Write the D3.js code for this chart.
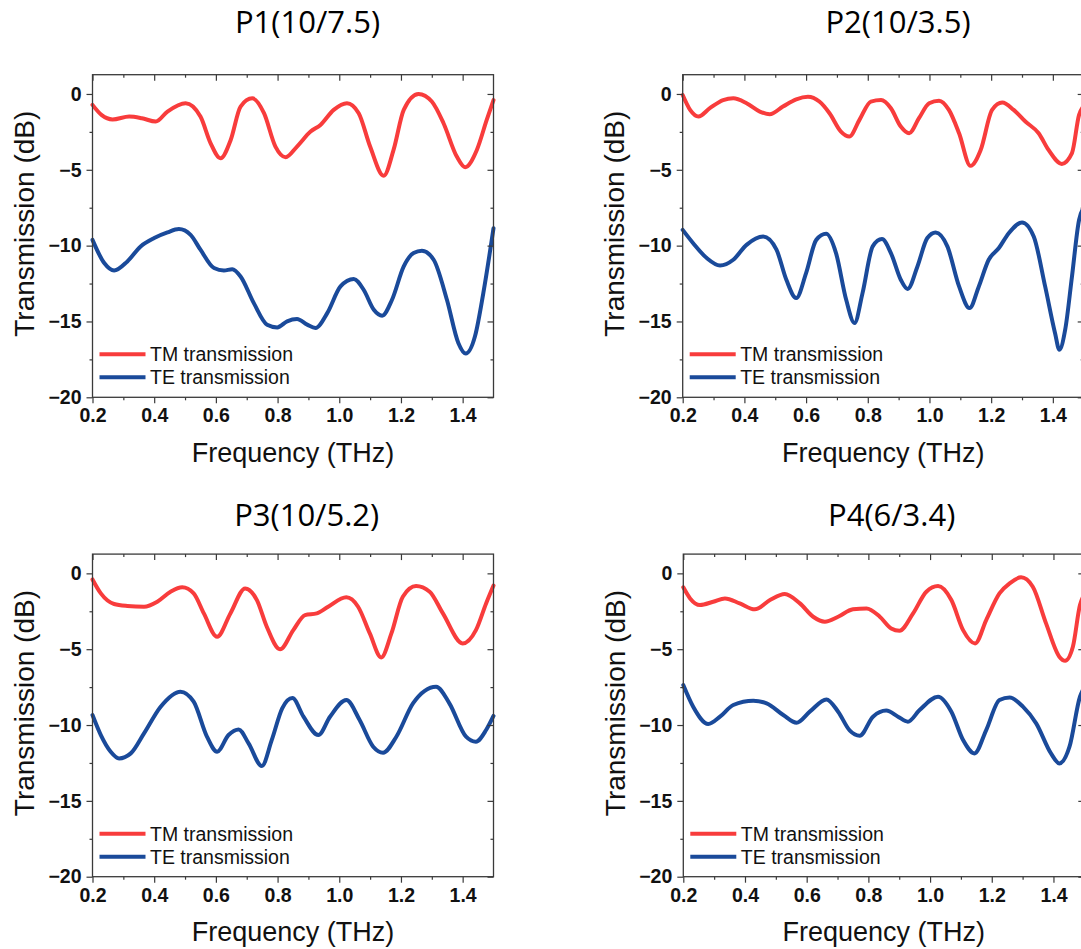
<!DOCTYPE html>
<html>
<head>
<meta charset="utf-8">
<script src="https://cdn.jsdelivr.net/npm/d3@7/dist/d3.min.js"></script>
<style>
  html, body { margin: 0; padding: 0; background: #fff; overflow: hidden; }
  svg { display: block; }
</style>
</head>
<body>
<svg id="chart" width="1081" height="949"></svg>
<script>
// ---------- DATA: [frequency (THz), transmission (dB)] ----------
const panelTitles = ["P1(10/7.5)", "P2(10/3.5)", "P3(10/5.2)", "P4(6/3.4)"];
const seriesNames = ["TM transmission", "TE transmission"];
const xTicks = [0.2, 0.4, 0.6, 0.8, 1.0, 1.2, 1.4];
const yTicks = [0, -5, -10, -15, -20];

const p1TM = [[0.2,-0.72],[0.23,-1.4],[0.265,-1.68],[0.319,-1.49],[0.36,-1.6],[0.405,-1.82],[0.443,-1.16],[0.502,-0.61],[0.55,-1.49],[0.583,-3.25],[0.615,-4.24],[0.648,-3.03],[0.68,-0.83],[0.718,-0.29],[0.756,-1.27],[0.793,-3.47],[0.826,-4.17],[0.863,-3.47],[0.907,-2.48],[0.939,-2.04],[0.982,-1.05],[1.025,-0.61],[1.063,-1.27],[1.1,-3.47],[1.144,-5.4],[1.176,-3.69],[1.209,-1.05],[1.257,0.0],[1.3,-0.5],[1.338,-1.93],[1.381,-4.13],[1.408,-4.83],[1.446,-3.69],[1.478,-1.71],[1.5,-0.4]];
const p1TE = [[0.2,-9.62],[0.238,-11.15],[0.27,-11.64],[0.313,-11.04],[0.356,-10.05],[0.4,-9.5],[0.443,-9.13],[0.48,-8.91],[0.518,-9.29],[0.55,-10.27],[0.594,-11.48],[0.626,-11.64],[0.653,-11.55],[0.68,-12.03],[0.723,-13.79],[0.766,-15.21],[0.799,-15.39],[0.831,-14.99],[0.863,-14.84],[0.896,-15.21],[0.923,-15.43],[0.961,-14.45],[1.004,-12.69],[1.047,-12.2],[1.079,-12.91],[1.112,-14.23],[1.139,-14.62],[1.171,-13.57],[1.209,-11.37],[1.241,-10.49],[1.268,-10.34],[1.306,-10.93],[1.349,-13.57],[1.386,-16.42],[1.41,-17.12],[1.44,-15.98],[1.467,-13.13],[1.5,-8.85]];

const p2TM = [[0.2,-0.07],[0.224,-1.05],[0.251,-1.49],[0.288,-0.94],[0.331,-0.4],[0.364,-0.29],[0.407,-0.61],[0.45,-1.16],[0.482,-1.34],[0.525,-0.83],[0.568,-0.35],[0.606,-0.18],[0.643,-0.5],[0.676,-1.27],[0.713,-2.48],[0.74,-2.81],[0.773,-1.71],[0.81,-0.5],[0.843,-0.4],[0.875,-0.94],[0.907,-2.15],[0.934,-2.59],[0.966,-1.6],[0.999,-0.61],[1.031,-0.44],[1.063,-1.05],[1.096,-2.59],[1.133,-4.74],[1.166,-3.69],[1.203,-1.05],[1.236,-0.57],[1.273,-1.05],[1.311,-1.82],[1.354,-2.59],[1.386,-3.69],[1.429,-4.61],[1.462,-3.9],[1.485,-1.38],[1.5,-0.8]];
const p2TE = [[0.2,-8.96],[0.234,-9.84],[0.278,-10.82],[0.321,-11.31],[0.364,-10.93],[0.407,-9.95],[0.461,-9.4],[0.504,-10.27],[0.536,-12.25],[0.568,-13.46],[0.6,-11.81],[0.633,-9.62],[0.665,-9.22],[0.697,-10.49],[0.73,-13.57],[0.757,-15.1],[0.783,-13.13],[0.816,-10.05],[0.846,-9.57],[0.875,-10.49],[0.907,-12.25],[0.929,-12.86],[0.961,-11.37],[0.993,-9.5],[1.02,-9.13],[1.058,-10.05],[1.096,-12.69],[1.13,-14.12],[1.16,-12.69],[1.192,-10.93],[1.225,-10.16],[1.257,-9.18],[1.3,-8.47],[1.338,-9.4],[1.375,-12.69],[1.407,-15.76],[1.421,-16.86],[1.44,-15.54],[1.462,-12.03],[1.485,-8.3],[1.5,-7.5]];

const p3TM = [[0.2,-0.4],[0.227,-1.32],[0.27,-2.02],[0.313,-2.15],[0.367,-2.2],[0.41,-1.87],[0.453,-1.21],[0.491,-0.92],[0.528,-1.32],[0.561,-2.64],[0.604,-4.18],[0.647,-2.64],[0.695,-0.99],[0.733,-1.76],[0.765,-3.52],[0.808,-5.01],[0.851,-3.74],[0.889,-2.75],[0.927,-2.64],[0.964,-2.2],[1.023,-1.58],[1.061,-2.2],[1.099,-3.96],[1.136,-5.54],[1.169,-3.96],[1.206,-1.54],[1.249,-0.84],[1.293,-1.21],[1.336,-2.64],[1.4,-4.62],[1.443,-3.74],[1.476,-1.98],[1.5,-0.8]];
const p3TE = [[0.2,-9.34],[0.227,-10.66],[0.259,-11.76],[0.286,-12.2],[0.324,-11.87],[0.367,-10.55],[0.421,-8.79],[0.485,-7.8],[0.528,-8.46],[0.571,-10.77],[0.604,-11.76],[0.641,-10.66],[0.674,-10.29],[0.706,-11.21],[0.749,-12.7],[0.781,-11.0],[0.815,-8.9],[0.848,-8.22],[0.884,-9.45],[0.932,-10.66],[0.97,-9.45],[1.023,-8.35],[1.066,-9.67],[1.11,-11.43],[1.142,-11.82],[1.185,-10.77],[1.239,-8.57],[1.314,-7.47],[1.357,-8.57],[1.411,-10.77],[1.443,-11.1],[1.476,-10.33],[1.5,-9.4]];

const p4TM = [[0.2,-0.92],[0.222,-1.65],[0.254,-2.09],[0.297,-1.87],[0.335,-1.65],[0.383,-1.98],[0.432,-2.37],[0.481,-1.76],[0.529,-1.36],[0.578,-1.98],[0.621,-2.86],[0.659,-3.19],[0.702,-2.86],[0.75,-2.37],[0.794,-2.31],[0.837,-2.86],[0.874,-3.63],[0.901,-3.78],[0.945,-2.64],[0.988,-1.21],[1.026,-0.84],[1.069,-1.76],[1.107,-3.74],[1.146,-4.62],[1.182,-3.08],[1.225,-1.32],[1.258,-0.66],[1.295,-0.26],[1.333,-0.88],[1.376,-3.3],[1.419,-5.49],[1.438,-5.76],[1.463,-4.84],[1.486,-2.09],[1.5,-1.4]];
const p4TE = [[0.2,-7.36],[0.232,-8.79],[0.281,-9.93],[0.319,-9.45],[0.362,-8.68],[0.427,-8.4],[0.47,-8.57],[0.524,-9.34],[0.567,-9.85],[0.61,-9.12],[0.664,-8.31],[0.702,-9.12],[0.74,-10.37],[0.772,-10.7],[0.815,-9.45],[0.858,-9.05],[0.896,-9.45],[0.928,-9.78],[0.966,-9.01],[1.026,-8.13],[1.069,-9.12],[1.107,-10.99],[1.144,-11.87],[1.182,-10.33],[1.225,-8.35],[1.258,-8.18],[1.301,-8.79],[1.344,-9.89],[1.392,-11.87],[1.419,-12.53],[1.452,-11.43],[1.486,-8.13],[1.5,-7.5]];

const panelData = [[p1TM, p1TE], [p2TM, p2TE], [p3TM, p3TE], [p4TM, p4TE]];

// ---------- LAYOUT ----------
const colors = ["#f83c3c", "#1a4a9a"];
const frameColor = "#3a3a3a";
const layout = [
  { ox: 0,     oy: 0,     tx: 307.5, ty: 33.3 },
  { ox: 590.2, oy: 0,     tx: 898,   ty: 33.3 },
  { ox: 0,     oy: 479.4, tx: 306.7, ty: 526 },
  { ox: 590.8, oy: 479.4, tx: 891.7, ty: 526 }
];
const base = { left: 92.5, right: 493.5, top: 74.7, bottom: 397.3 };

const svg = d3.select("#chart");

panelData.forEach((series, i) => {
  const L = layout[i];
  const left = base.left + L.ox, right = base.right + L.ox;
  const top = base.top + L.oy, bottom = base.bottom + L.oy;

  const x = d3.scaleLinear().domain([0.2, 1.5]).range([left, right]);
  const y = d3.scaleLinear().domain([-20, 1.27]).range([bottom, top]);

  const g = svg.append("g");

  // title
  g.append("text")
    .attr("x", L.tx).attr("y", L.ty)
    .attr("text-anchor", "middle")
    .style("font-family", "'Open Sans', sans-serif")
    .style("font-size", "31px")
    .style("fill", "#000")
    .text(panelTitles[i]);

  // curves
  const line = d3.line()
    .x(d => x(d[0])).y(d => y(d[1]))
    .curve(d3.curveMonotoneX);
  series.forEach((s, k) => {
    g.append("path")
      .datum(s)
      .attr("d", line)
      .attr("fill", "none")
      .attr("stroke", colors[k])
      .attr("stroke-width", 4)
      .attr("stroke-linejoin", "round")
      .attr("stroke-linecap", "round");
  });

  // axes
  const fmtX = d3.format(".1f");
  const minorX = d3.range(0.3, 1.5, 0.2);
  const minorY = [-2.5, -7.5, -12.5, -17.5];

  const axStyle = sel => {
    sel.select(".domain").remove();
    sel.selectAll("line").attr("stroke", frameColor).attr("stroke-width", 1.2);
  };

  // bottom major (outward)
  const bx = g.append("g").attr("transform", `translate(0,${bottom})`)
    .call(d3.axisBottom(x).tickValues(xTicks).tickFormat(fmtX).tickSize(6).tickPadding(5));
  axStyle(bx);
  bx.selectAll("text")
    .style("font-family", "'Liberation Sans', Arial, sans-serif")
    .style("font-size", "19.5px").style("font-weight", "bold").style("fill", "#111");
  g.append("g").attr("transform", `translate(0,${bottom})`)
    .call(d3.axisBottom(x).tickValues(minorX).tickFormat("").tickSize(3))
    .call(axStyle);

  // top (inward)
  g.append("g").attr("transform", `translate(0,${top})`)
    .call(d3.axisBottom(x).tickValues(xTicks).tickFormat("").tickSize(6))
    .call(axStyle);
  g.append("g").attr("transform", `translate(0,${top})`)
    .call(d3.axisBottom(x).tickValues(minorX).tickFormat("").tickSize(3))
    .call(axStyle);

  // left (outward)
  const ly = g.append("g").attr("transform", `translate(${left},0)`)
    .call(d3.axisLeft(y).tickValues(yTicks).tickFormat(d3.format("d")).tickSize(6).tickPadding(5));
  axStyle(ly);
  ly.selectAll("text")
    .style("font-family", "'Liberation Sans', Arial, sans-serif")
    .style("font-size", "19.5px").style("font-weight", "bold").style("fill", "#111");
  g.append("g").attr("transform", `translate(${left},0)`)
    .call(d3.axisLeft(y).tickValues(minorY).tickFormat("").tickSize(3))
    .call(axStyle);

  // right (inward)
  g.append("g").attr("transform", `translate(${right},0)`)
    .call(d3.axisLeft(y).tickValues(yTicks).tickFormat("").tickSize(6))
    .call(axStyle);
  g.append("g").attr("transform", `translate(${right},0)`)
    .call(d3.axisLeft(y).tickValues(minorY).tickFormat("").tickSize(3))
    .call(axStyle);

  // frame
  g.append("rect")
    .attr("x", left).attr("y", top)
    .attr("width", right - left).attr("height", bottom - top)
    .attr("fill", "none").attr("stroke", frameColor).attr("stroke-width", 1.3);

  // axis titles
  g.append("text")
    .attr("x", (left + right) / 2).attr("y", bottom + 64.4)
    .attr("text-anchor", "middle")
    .style("font-family", "'Liberation Sans', Arial, sans-serif")
    .style("font-size", "27px").style("fill", "#111")
    .text("Frequency (THz)");
  g.append("text")
    .attr("transform", `translate(${left - 58.5},${top + 149}) rotate(-90)`)
    .attr("text-anchor", "middle")
    .style("font-family", "'Liberation Sans', Arial, sans-serif")
    .style("font-size", "28px").style("fill", "#111")
    .text("Transmission (dB)");

  // legend
  seriesNames.forEach((name, k) => {
    const ly0 = top + 279.6 + k * 23;
    g.append("line")
      .attr("x1", left + 7).attr("x2", left + 53)
      .attr("y1", ly0).attr("y2", ly0)
      .attr("stroke", colors[k]).attr("stroke-width", 4);
    g.append("text")
      .attr("x", left + 57.5).attr("y", ly0 + 7)
      .style("font-family", "'Liberation Sans', Arial, sans-serif")
      .style("font-size", "19.5px").style("fill", "#111")
      .text(name);
  });
});
</script>
</body>
</html>
